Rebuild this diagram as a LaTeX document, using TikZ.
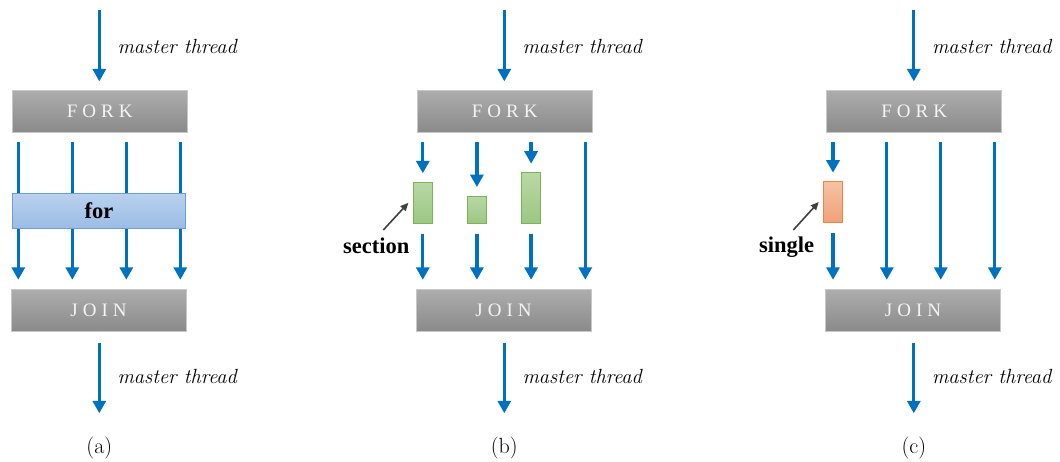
\documentclass[tikz,border=0pt]{standalone}
\usepackage{fontspec}
\usetikzlibrary{arrows.meta}
\newfontfamily\camfont{Liberation Serif}
\definecolor{flowblue}{HTML}{0070C0}
\definecolor{bartop}{HTML}{ADADAD}
\definecolor{barbot}{HTML}{8A8A8A}
\definecolor{barline}{HTML}{C8C8C8}
\definecolor{bartext}{HTML}{F4F4F4}
\definecolor{fortop}{HTML}{B9D1EE}
\definecolor{forbot}{HTML}{9BBCE6}
\definecolor{forline}{HTML}{6A9FD8}
\definecolor{sectop}{HTML}{B8D8A4}
\definecolor{secbot}{HTML}{9CC784}
\definecolor{secline}{HTML}{7CB25B}
\definecolor{sngtop}{HTML}{F6C2A3}
\definecolor{sngbot}{HTML}{F1A079}
\definecolor{sngline}{HTML}{EE8446}
\definecolor{pointgray}{HTML}{404040}
\begin{document}
\begin{tikzpicture}[x=1pt,y=-1pt,
  flow/.style={draw=flowblue, line width=3.3pt, -{Triangle[width=13pt,length=12.5pt]}},
  pointer/.style={draw=pointgray, line width=1.6pt, -{Triangle[width=7pt,length=8pt]}},
  bar/.style={draw=barline, line width=1pt, top color=bartop, bottom color=barbot,
    minimum width=175pt, minimum height=42pt, inner sep=0pt, text=bartext,
    font=\camfont\fontsize{19}{22}\selectfont},
  forbox/.style={draw=forline, line width=1pt, top color=fortop, bottom color=forbot,
    minimum width=173.4pt, minimum height=35pt, inner sep=0pt,
    font=\camfont\fontsize{22.5}{26}\selectfont\bfseries},
  secbox/.style={draw=secline, line width=1pt, top color=sectop, bottom color=secbot, inner sep=0pt},
  sngbox/.style={draw=sngline, line width=1pt, top color=sngtop, bottom color=sngbot, inner sep=0pt},
  tag/.style={inner sep=0pt, font=\camfont\fontsize{22.5}{26}\selectfont\bfseries},
  mlabel/.style={inner sep=0pt, font=\fontsize{20.5}{24}\selectfont\itshape},
  caplabel/.style={inner sep=0pt, font=\fontsize{22}{26}\selectfont}
]
\useasboundingbox (0,0) rectangle (1060,461);

% common frame of each panel: master thread, fork, join, caption
\foreach \p/\dx in {a/0, b/405, c/814.5} {
  \node[bar] (fork\p) at (99.7+\dx,111.2) {F\kern5pt O\kern5pt R\kern5pt K};
  \node[bar] (join\p) at (98.5+\dx,310.3) {J\kern5pt O\kern5pt I\kern5pt N};
  \coordinate (mtop\p) at (99.3+\dx,10);
  \coordinate (mbot\p) at (99.3+\dx,413.3);
  \draw[flow] (mtop\p) -- ([yshift=8.3pt]fork\p.north -| mtop\p);
  \draw[flow] ([yshift=-11.5pt]join\p.south -| mbot\p) -- (mbot\p);
  \node[mlabel, anchor=base west] (mt\p) at (117.3+\dx,53) {master thread};
  \node[mlabel, anchor=base west] (mb\p) at (117.3+\dx,383.3) {master thread};
  \node[caplabel] (cap\p) at (99.3+\dx,448) {(\p)};
}

% (a) parallel for
\foreach \x in {18.3,72.3,126.3,180.3}
  \draw[flow] ([yshift=-9.4pt]forka.south -| \x,0) -- ([yshift=9pt]joina.north -| \x,0);
\node[forbox] (fora) at (99,210.8) {for};

% (b) sections
\node[secbox, minimum width=19pt, minimum height=41pt] (s1) at (422.8,202.8) {};
\node[secbox, minimum width=18.4pt, minimum height=27.3pt] (s2) at (476.9,209.7) {};
\node[secbox, minimum width=18.3pt, minimum height=50.6pt] (s3) at (531.1,198) {};
\foreach \s in {s1,s2,s3} {
  \draw[flow] ([yshift=-9.4pt]forkb.south -| \s) -- ([yshift=8.5pt]\s.north);
  \draw[flow] ([yshift=-10pt]\s.south) -- ([yshift=9pt]joinb.north -| \s);
}
\draw[flow] ([yshift=-9.4pt]forkb.south -| 585.3,0) -- ([yshift=9pt]joinb.north -| 585.3,0);
\node[tag, anchor=base] (sect) at (376.3,253.3) {section};
\coordinate (secfrom) at (383.3,230);
\draw[pointer] (secfrom) -- ([xshift=-4.4pt]s1.west);

% (c) single
\node[sngbox, minimum width=18.7pt, minimum height=40.6pt] (sg) at (833,202) {};
\draw[flow] ([yshift=-9.4pt]forkc.south -| sg) -- ([yshift=8.5pt]sg.north);
\draw[flow] ([yshift=-10pt]sg.south) -- ([yshift=9pt]joinc.north -| sg);
\foreach \x in {886.8,940.8,994.8}
  \draw[flow] ([yshift=-9.4pt]forkc.south -| \x,0) -- ([yshift=9pt]joinc.north -| \x,0);
\node[tag, anchor=base] (sngl) at (786.7,252) {single};
\coordinate (sngfrom) at (793.3,230);
\draw[pointer] (sngfrom) -- ([xshift=-4.4pt]sg.west);
\end{tikzpicture}
\end{document}
